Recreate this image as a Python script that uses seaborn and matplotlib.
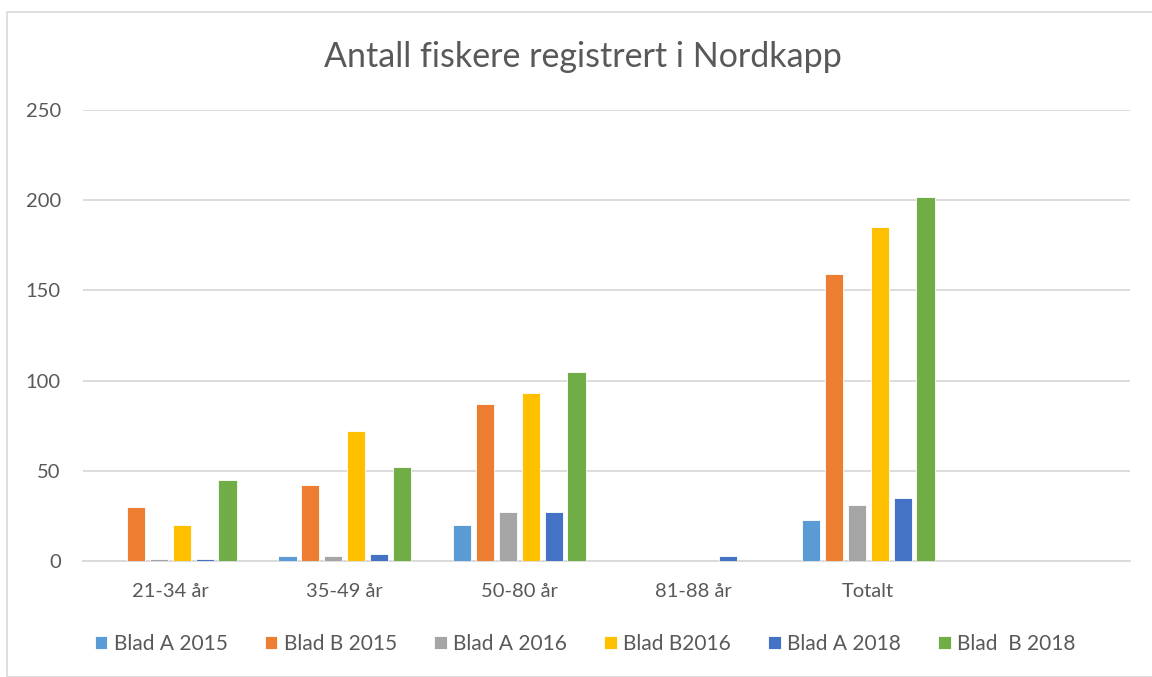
import numpy as np
import pandas as pd
import seaborn as sns
import matplotlib.pyplot as plt
from matplotlib.patches import Rectangle

# data
categories = ['21-34 år', '35-49 år', '50-80 år', '81-88 år', 'Totalt', ' ']
series = ['Blad A 2015', 'Blad B 2015', 'Blad A 2016', 'Blad B2016', 'Blad A 2018', 'Blad  B 2018']
blad_a_2015 = [0, 3, 20, 0, 23, np.nan]
blad_b_2015 = [30, 42, 87, 0, 159, np.nan]
blad_a_2016 = [1, 3, 27, 0, 31, np.nan]
blad_b_2016 = [20, 72, 93, 0, 185, np.nan]
blad_a_2018 = [1, 4, 27, 3, 35, np.nan]
blad_b_2018 = [45, 52, 105, 0, 202, np.nan]
colors = ['#5B9BD5', '#ED7D31', '#A5A5A5', '#FFC000', '#4472C4', '#70AD47']

values = [blad_a_2015, blad_b_2015, blad_a_2016, blad_b_2016, blad_a_2018, blad_b_2018]
rows = []
for s, vals in zip(series, values):
    for c, v in zip(categories, vals):
        rows.append({'kategori': c, 'serie': s, 'antall': v})
df = pd.DataFrame(rows)

sns.set_style('white')
plt.rcParams['font.family'] = ['Lato', 'DejaVu Sans']
text_col = '#595959'

fig = plt.figure(figsize=(11.52, 6.77), dpi=100)
ax = fig.add_axes([83 / 1152, 1 - 561 / 677, 1047 / 1152, 451 / 677])

sns.barplot(data=df, x='kategori', y='antall', hue='serie', order=categories,
            hue_order=series, palette=colors, saturation=1, width=0.79, gap=0.2,
            edgecolor='white', linewidth=0.6, errorbar=None, ax=ax, zorder=3)

ax.set_ylim(0, 250)
ax.set_xlim(-0.5, len(categories) - 0.5)
ax.set_yticks(range(0, 251, 50))
ax.yaxis.grid(True, color='#D9D9D9', linewidth=1.3, zorder=0)
ax.set_axisbelow(True)
for side in ['top', 'right', 'left']:
    ax.spines[side].set_visible(False)
ax.spines['bottom'].set_color('#D9D9D9')
ax.spines['bottom'].set_linewidth(1.3)
ax.tick_params(axis='both', length=0, labelsize=14.5, colors=text_col)
ax.tick_params(axis='y', pad=16)
ax.tick_params(axis='x', pad=16)
ax.set_xlabel('')
ax.set_ylabel('')

fig.suptitle('Antall fiskere registrert i Nordkapp', x=0.506, y=1 - 57 / 677, va='center',
             fontsize=24.5, color=text_col)

handles, labels = ax.get_legend_handles_labels()
ax.legend_.remove()
fig.legend(handles, labels, loc='center', bbox_to_anchor=(0.508, 1 - 644 / 677), ncol=6,
           frameon=False, fontsize=15, handlelength=0.6, handleheight=0.6,
           handletextpad=0.3, columnspacing=1.8, labelcolor=text_col)

fig.patches.append(Rectangle((7 / 1152, 0), 1.2, 1 - 12 / 677, transform=fig.transFigure,
                             fill=False, edgecolor='#D9D9D9', linewidth=1.2))

fig.savefig('out.png', dpi=100)
